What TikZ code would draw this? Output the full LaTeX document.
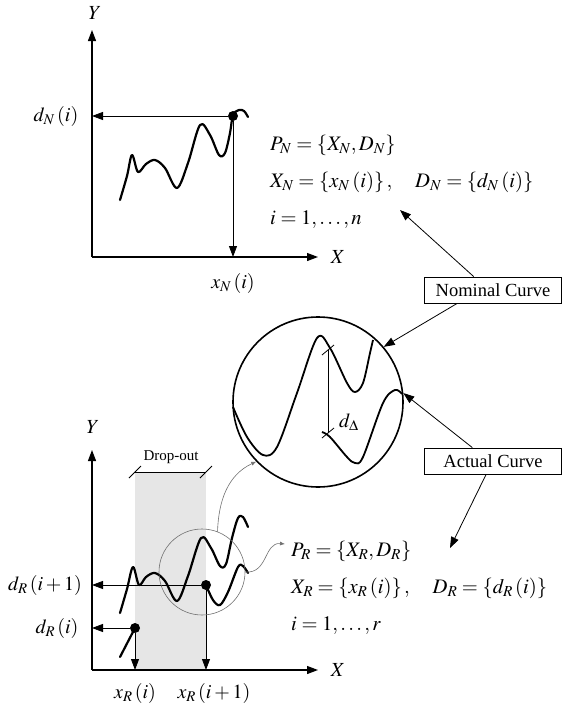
\documentclass[tikz,border=0pt]{standalone}
\usepackage{mathptmx}
\usepackage{fontspec}
\setmainfont{Liberation Serif}
\usepackage{tikz}
\usetikzlibrary{positioning,calc,arrows.meta}
\definecolor{DropGray}{HTML}{E6E6E6}
\definecolor{LinkGray}{HTML}{707070}

\begin{document}
\begin{tikzpicture}[x=1pt, y=-1pt, >={Triangle[length=11pt,width=8pt]},
  axis/.style={line width=1.2pt},
  guide/.style={->, line width=0.8pt},
  curve/.style={line width=2.2pt, line join=round, line cap=round},
  dot/.style={circle, fill=black, inner sep=0pt, minimum size=10pt},
  mathlbl/.style={font=\fontsize{20}{24}\selectfont, inner sep=1pt},
  formula/.style={font=\fontsize{20.6}{37}\selectfont, align=left, inner sep=0pt, anchor=west},
  tagbox/.style={draw, line width=0.8pt, font=\fontsize{18.5}{20}\selectfont, minimum width=137pt, minimum height=26pt, inner sep=0pt},
  link/.style={-{Latex[length=5pt,width=4pt]}, LinkGray, line width=0.6pt}]
  \useasboundingbox (0,0) rectangle (562,715);

  % Upper plot
  \coordinate (oN) at (92,257);
  \coordinate (yN) at (92,30);
  \coordinate (xN) at (318,257);
  \draw[axis,->] (oN) -- (yN);
  \draw[axis,->] (oN) -- (xN);
  \node[mathlbl] (labYN) at (95,13) {$Y$};
  \node[mathlbl] (labXN) at (338,257) {$X$};
  \draw[curve] plot[smooth, tension=0.55] coordinates {(120,200) (127,176) (132,155) (138,172) (146,164) (155,160) (165,168) (177,188) (188,163) (200,125) (210,135) (219,155) (225,153) (230,133) (233,115) (239,110) (244,111) (248,117)};
  \node[dot] (dotN) at (233,116) {};
  \draw[guide] (dotN) -- (dotN -| oN);
  \draw[guide] (dotN) -- (dotN |- oN);
  \node[mathlbl] (labdN) at (56,116) {$d_N\left(i\right)$};
  \node[mathlbl] (labxN) at (233,283) {$x_N\left(i\right)$};
  \node[formula] (formN) at (270,182) {$P_N=\left\{X_N,D_N\right\}$\\$X_N=\left\{x_N\left(i\right)\right\},\quad D_N=\left\{d_N\left(i\right)\right\}$\\$i=1,\ldots,n$};
  \coordinate (tipN) at (400,210);

  % Callout boxes
  \node[tagbox] (nomBox) at (493,290) {Nominal Curve};
  \node[tagbox] (actBox) at (493,461) {Actual Curve};

  % Zoomed circle
  \node[circle, draw, line width=1.6pt, minimum size=170pt, inner sep=0pt] (zoomB) at (318,402) {};
  \draw[line width=1.8pt, line join=round] plot[smooth, tension=0.55] coordinates {(233,407) (247,437) (263,455) (277,447) (297,393) (317,338) (330,348) (347,383) (355,392) (363,383) (370,353) (373,340)};
  \draw[line width=1.8pt, line join=round] plot[smooth, tension=0.55] coordinates {(322,432) (330,437) (347,457) (355,463) (363,457) (383,403) (395,390) (402,394)};
  \draw[line width=0.8pt] (328,350) -- (328,433);
  \draw[line width=0.8pt] (322,355) -- (334,345);
  \draw[line width=0.8pt] (322,438) -- (334,428);
  \node[mathlbl] (labDelta) at (349,422) {$d_\Delta$};

  % Lower plot
  \fill[DropGray] (135,473) rectangle (206,670);
  \coordinate (oR) at (92,670);
  \coordinate (yR) at (92,450);
  \coordinate (xR) at (318,670);
  \draw[axis,->] (oR) -- (yR);
  \draw[axis,->] (oR) -- (xR);
  \node[mathlbl] (labYR) at (93,427) {$Y$};
  \node[mathlbl] (labXR) at (338,670) {$X$};
  \node[font=\fontsize{15}{16}\selectfont, inner sep=0pt] (labDrop) at (171,457) {Drop-out};
  \draw[line width=0.8pt] (135,472) -- (206,472);
  \draw[line width=0.8pt] (129,478) -- (141,466);
  \draw[line width=0.8pt] (200,478) -- (212,466);
  \draw[curve] (120,657) -- (135,628);
  \draw[curve] plot[smooth, tension=0.55] coordinates {(120,613) (127,589) (133,567) (139,585) (146,577) (155,573) (165,581) (177,601) (188,576) (201,538) (211,548) (220,566) (226,564) (232,538) (238,518) (243,517) (248,527)};
  \draw[curve] plot[smooth, tension=0.55] coordinates {(206,585) (213,600) (220,605) (228,592) (238,567) (243,566) (248,573)};
  \node[dot] (dotR1) at (135,628) {};
  \node[dot] (dotR2) at (206,585) {};
  \draw[guide] (dotR1) -- (dotR1 -| oR);
  \draw[guide] (dotR1) -- (dotR1 |- oR);
  \draw[guide] (dotR2) -- (dotR2 -| oR);
  \draw[guide] (dotR2) -- (dotR2 |- oR);
  \node[mathlbl] (labdR2) at (45,585) {$d_R\left(i+1\right)$};
  \node[mathlbl] (labdR1) at (57,628) {$d_R\left(i\right)$};
  \node[mathlbl] (labxR1) at (135,693) {$x_R\left(i\right)$};
  \node[mathlbl] (labxR2) at (214,693) {$x_R\left(i+1\right)$};
  \node[formula] (formR) at (291,588) {$P_R=\left\{X_R,D_R\right\}$\\$X_R=\left\{x_R\left(i\right)\right\},\quad D_R=\left\{d_R\left(i\right)\right\}$\\$i=1,\ldots,r$};
  \coordinate (tipR) at (450,548);
  \coordinate (linkR) at (285,544);
  \node[circle, draw=LinkGray, line width=0.6pt, minimum size=86pt, inner sep=0pt] (zoomS) at (202,572) {};

  % Connectors
  \draw[guide] ($(nomBox.north west)!0.36!(nomBox.north east)$) -- (tipN);
  \draw[guide] ($(nomBox.south west)!0.24!(nomBox.south east)$) -- (zoomB.40);
  \draw[guide] ($(actBox.north west)!0.35!(actBox.north east)$) -- (zoomB.6);
  \draw[guide] ($(actBox.south west)!0.45!(actBox.south east)$) -- (tipR);
  \draw[link] (zoomS.69) to[out=88, in=205] (zoomB.224);
  \draw[link] (zoomS.east) .. controls (268,574) and (264,542) .. (linkR);
\end{tikzpicture}
\end{document}
